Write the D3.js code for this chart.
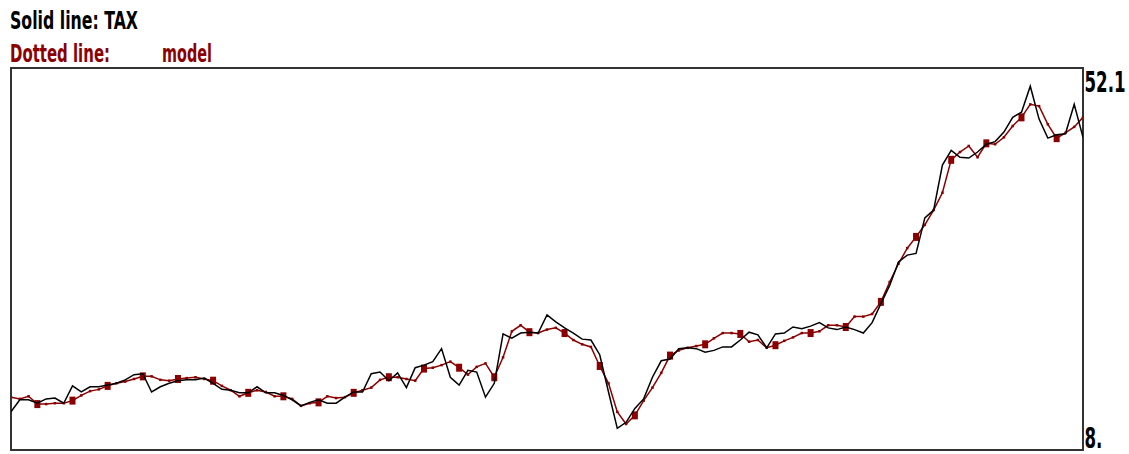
<!DOCTYPE html>
<html>
<head>
<meta charset="utf-8">
<script src="https://cdn.jsdelivr.net/npm/d3@7"></script>
<style>
  html, body { margin: 0; padding: 0; background: #fff; }
  svg { display: block; }
</style>
</head>
<body>
<svg id="chart" width="1129" height="454"></svg>
<script>
// ---- data ----
const tax = [
  12.4,13.8,13.8,13.4,13.9,14.0,13.4,15.4,14.7,15.3,
  15.3,15.5,15.7,16.1,16.7,16.8,14.7,15.3,15.7,16.0,
  16.1,16.1,16.3,15.7,15.0,14.9,14.6,14.6,15.3,14.6,
  14.6,14.3,13.8,13.1,13.5,13.8,13.4,13.4,14.1,14.7,
  14.7,16.8,17.0,16.0,16.9,15.2,17.5,17.8,18.2,19.7,
  16.4,15.5,17.2,17.0,14.1,15.7,21.4,20.9,21.5,21.6,
  21.5,23.6,22.8,22.1,21.5,20.8,20.7,19.0,14.7,10.5,
  11.2,12.8,13.9,16.4,18.3,18.5,19.7,19.8,19.7,19.3,
  19.5,19.9,19.9,20.7,21.6,21.3,19.8,21.4,21.5,22.2,
  22.0,22.3,22.7,22.1,21.9,22.2,21.9,21.5,22.7,24.9,
  27.0,29.7,30.5,30.7,34.8,35.7,40.9,42.6,41.8,41.7,
  42.4,43.3,43.6,44.7,46.4,47.0,50.0,46.2,44.0,44.4,
  44.5,47.9,44.1
];
const model = [
  14.1,13.9,14.2,13.3,13.3,13.4,13.4,13.7,14.3,14.8,
  15.0,15.4,15.7,15.9,16.2,16.5,16.5,16.1,16.0,16.2,
  16.3,16.4,16.2,16.0,15.4,14.9,14.2,14.6,14.9,14.7,
  14.2,14.2,13.9,13.1,13.4,13.5,14.2,14.0,14.1,14.6,
  14.9,15.2,16.1,16.4,16.4,16.2,16.0,17.4,17.5,17.8,
  18.2,17.5,16.7,17.6,18.0,16.4,18.7,21.7,22.4,21.6,
  21.5,21.9,22.1,21.5,20.7,20.2,19.9,17.7,15.7,12.4,
  11.0,12.0,13.7,15.2,16.9,18.9,19.5,19.8,20.0,20.2,
  20.9,21.5,21.5,21.4,20.5,20.7,19.8,20.1,20.6,21.0,
  21.5,21.5,21.7,22.4,22.4,22.2,23.4,23.4,23.7,25.1,
  27.4,29.5,31.3,32.6,34.0,35.7,37.7,41.5,42.4,43.1,
  41.8,43.4,43.3,44.1,45.4,46.4,47.9,47.7,45.6,44.0,
  44.6,45.3,46.4
];
const markerIndices = d3.range(3, model.length, 4);
const yTickValues = [52.1, 8];
const yTickLabels = ["52.1", "8."];
const legendSolid = "Solid line: TAX";
const legendDotted = "Dotted line:";
const legendModel = "model";

// ---- drawing ----
(function () {
const svg = d3.select("#chart");
const pLeft = 11, pRight = 1083, pTop = 68, pBottom = 450;
const darkRed = "#8b0000";

const x = d3.scaleLinear().domain([0, tax.length - 1]).range([pLeft, pRight]);
const y = d3.scaleLinear().domain([yTickValues[1], yTickValues[0]]).range([pBottom, pTop]);

const font = "'Liberation Sans Narrow','Arial Narrow','DejaVu Sans Condensed','Liberation Sans',sans-serif";

function label(txt, xx, yy, color, len) {
  svg.append("text").attr("x", xx).attr("y", yy)
    .attr("font-family", font).attr("font-size", 24).attr("font-weight", 600)
    .attr("fill", color)
    .attr("textLength", len).attr("lengthAdjust", "spacingAndGlyphs")
    .text(txt);
}
label(legendSolid, 10, 29, "#000", 128);
label(legendDotted, 10, 62, darkRed, 100);
label(legendModel, 162, 62, darkRed, 50);

// frame
svg.append("rect").attr("x", pLeft).attr("y", pTop)
  .attr("width", pRight - pLeft).attr("height", pBottom - pTop)
  .attr("fill", "#fff").attr("stroke", "#333").attr("stroke-width", 2);

svg.append("clipPath").attr("id", "plotclip")
  .append("rect").attr("x", pLeft).attr("y", pTop)
  .attr("width", pRight - pLeft).attr("height", pBottom - pTop);

const g = svg.append("g").attr("clip-path", "url(#plotclip)");

const line = d3.line().x((d, i) => x(i)).y(d => y(d));

// model (dotted red) line
g.append("path").datum(model)
  .attr("d", line).attr("fill", "none")
  .attr("stroke", darkRed).attr("stroke-width", 1.5);
g.selectAll("rect.dot").data(model).join("rect").attr("class", "dot")
  .attr("x", (d, i) => x(i) - 1.25).attr("y", d => y(d) - 1.25)
  .attr("width", 2.5).attr("height", 2.5).attr("fill", darkRed);
g.selectAll("rect.mk").data(markerIndices).join("rect").attr("class", "mk")
  .attr("x", i => x(i) - 3).attr("y", i => y(model[i]) - 4)
  .attr("width", 6).attr("height", 8).attr("fill", darkRed);

// TAX solid black line
g.append("path").datum(tax)
  .attr("d", line).attr("fill", "none")
  .attr("stroke", "#000").attr("stroke-width", 1.5);

// y labels on right (narrowed horizontally)
const sx = 0.66;
const yAxis = d3.axisRight(y).tickValues(yTickValues)
  .tickFormat((d, i) => yTickLabels[i]).tickSize(0).tickPadding(2);
const ax = svg.append("g").attr("transform", `translate(${pRight},0)`).call(yAxis);
ax.select(".domain").remove();
ax.selectAll("text")
  .attr("font-family", font).attr("font-size", 28).attr("font-weight", 600)
  .attr("fill", "#000")
  .attr("text-anchor", "start")
  .attr("transform", `scale(${sx},1)`)
  .attr("x", 1.5 / sx)
  .attr("dy", (d, i) => i === 0 ? "0.85em" : "-0.1em");
})();
</script>
</body>
</html>
